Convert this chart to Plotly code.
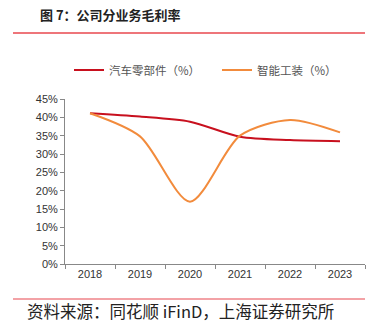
import plotly.graph_objects as go

years = ["2018", "2019", "2020", "2021", "2022", "2023"]
auto_parts = [41.1, 40.2, 38.8, 34.7, 33.8, 33.5]
smart_tooling = [41.1, 34.8, 17.0, 35.0, 39.3, 35.9]
y_ticks = [0, 5, 10, 15, 20, 25, 30, 35, 40, 45]
y_tick_text = [f"{v}%" for v in y_ticks]

fig = go.Figure()
fig.add_trace(go.Scatter(x=years, y=auto_parts, mode="lines", name="汽车零部件（%）",
                         line=dict(color="#C8101E", width=2, shape="spline", smoothing=0.8)))
fig.add_trace(go.Scatter(x=years, y=smart_tooling, mode="lines", name="智能工装（%）",
                         line=dict(color="#F28B3C", width=2, shape="spline", smoothing=0.8)))

fig.update_layout(
    width=385, height=325,
    margin=dict(l=65, r=20, t=99, b=61),
    paper_bgcolor="white", plot_bgcolor="white",
    font=dict(family="Liberation Sans, Arial", size=11, color="#333"),
    legend=dict(orientation="h", x=(77 - 65 - 8) / 300, xanchor="left", y=1 + (99 - 70) / 165,
                yanchor="middle", font=dict(family="Noto Sans CJK SC", size=11.5, color="#555"),
                entrywidth=103, entrywidthmode="pixels", tracegroupgap=0, bgcolor="rgba(0,0,0,0)"),
    showlegend=True,
    xaxis=dict(type="category", showline=True, linecolor="#888", linewidth=1,
               ticks="outside", ticklen=4, tickcolor="#888", showgrid=False,
               tickson="boundaries", range=[-0.5, 5.5], fixedrange=True),
    yaxis=dict(range=[0, 45], tickvals=y_ticks, ticktext=y_tick_text, showline=True,
               linecolor="#888", linewidth=1, ticks="outside", ticklen=4, tickcolor="#888",
               showgrid=False, zeroline=False),
)

fig.add_annotation(text="<b>图 7：公司分业务毛利率</b>", xref="paper", yref="paper",
                   x=(38 - 65) / 300, y=1 + (99 - 14) / 165, xanchor="left", yanchor="middle",
                   align="left", showarrow=False,
                   font=dict(family="Noto Sans CJK SC", size=13, color="#222"))
fig.add_annotation(text="资料来源：同花顺 iFinD，上海证券研究所", xref="paper", yref="paper",
                   x=(25 - 65) / 300, y=-(311 - 264) / 165, xanchor="left", yanchor="middle",
                   align="left", showarrow=False,
                   font=dict(family="Noto Sans CJK SC", size=16.5, color="#222"))
fig.add_shape(type="line", xref="paper", yref="paper", x0=(13 - 65) / 300, x1=1,
              y0=1 + (99 - 33) / 165, y1=1 + (99 - 33) / 165, line=dict(color="#E8474E", width=1.5))
fig.add_shape(type="line", xref="paper", yref="paper", x0=(13 - 65) / 300, x1=1,
              y0=-(299 - 264) / 165, y1=-(299 - 264) / 165, line=dict(color="#E8474E", width=1.2))

fig.write_html("out.html")
